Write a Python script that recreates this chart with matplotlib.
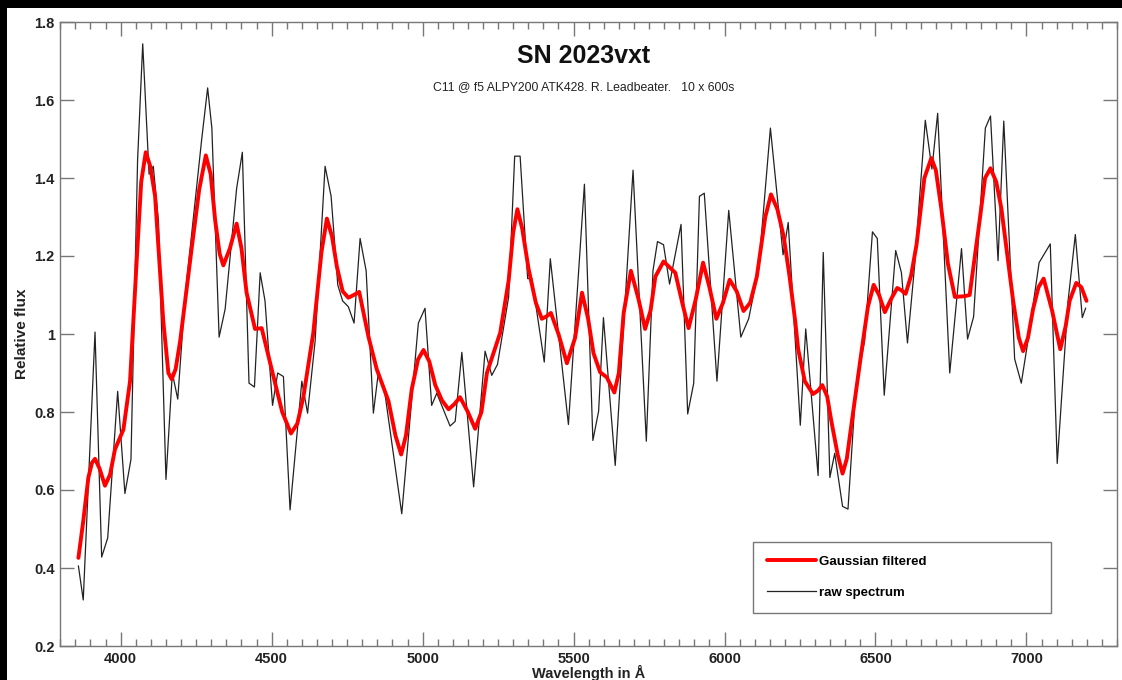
import numpy as np
import matplotlib
matplotlib.use("Agg")
import matplotlib.pyplot as plt
from matplotlib.patches import Rectangle
from matplotlib.ticker import MultipleLocator, FormatStrFormatter

# raw spectrum (wavelength in A, relative flux)
raw_wave = [3860, 3876, 3915, 3937, 3957, 3990, 4014, 4034, 4056, 4073,
            4094, 4108, 4125, 4150, 4171, 4189, 4213, 4268, 4288, 4302,
            4326, 4346, 4384, 4403, 4425, 4443, 4462, 4478, 4503, 4520,
            4539, 4561, 4600, 4619, 4644, 4677, 4697, 4719, 4735, 4754,
            4773, 4793, 4813, 4837, 4854, 4876, 4931, 4986, 5008, 5030,
            5047, 5091, 5108, 5130, 5169, 5207, 5229, 5248, 5285, 5305,
            5323, 5348, 5362, 5403, 5423, 5483, 5536, 5564, 5583, 5599,
            5638, 5697, 5741, 5763, 5778, 5798, 5818, 5856, 5878, 5898,
            5917, 5933, 5975, 6014, 6054, 6080, 6113, 6152, 6194, 6211,
            6251, 6269, 6310, 6327, 6349, 6365, 6391, 6409, 6435, 6464,
            6490, 6506, 6529, 6567, 6586, 6606, 6630, 6665, 6687, 6706,
            6746, 6785, 6805, 6825, 6864, 6881, 6906, 6925, 6961, 6983,
            7005, 7042, 7079, 7102, 7138, 7162, 7185, 7196]
raw_flux = [0.405, 0.318, 1.005, 0.428, 0.477, 0.853, 0.591, 0.678, 1.446, 1.744,
            1.41, 1.43, 1.29, 0.627, 0.90, 0.833, 1.095, 1.497, 1.631, 1.528,
            0.992, 1.064, 1.373, 1.466, 0.874, 0.864, 1.157, 1.085, 0.817, 0.90,
            0.891, 0.549, 0.879, 0.797, 0.982, 1.43, 1.353, 1.126, 1.085, 1.07,
            1.028, 1.245, 1.162, 0.797, 0.905, 0.843, 0.539, 1.028, 1.066, 0.817,
            0.848, 0.764, 0.776, 0.953, 0.608, 0.956, 0.894, 0.922, 1.095, 1.456,
            1.456, 1.142, 1.142, 0.928, 1.193, 0.768, 1.384, 0.727, 0.802, 1.042,
            0.663, 1.42, 0.725, 1.162, 1.237, 1.229, 1.128, 1.281, 0.795, 0.874,
            1.353, 1.361, 0.879, 1.317, 0.992, 1.039, 1.167, 1.528, 1.203, 1.286,
            0.766, 1.013, 0.637, 1.209, 0.632, 0.694, 0.558, 0.551, 0.864, 0.982,
            1.262, 1.245, 0.843, 1.214, 1.157, 0.977, 1.178, 1.548, 1.423, 1.566,
            0.90, 1.219, 0.987, 1.044, 1.528, 1.559, 1.188, 1.546, 0.936, 0.874,
            0.982, 1.183, 1.231, 0.668, 1.085, 1.255, 1.042, 1.066]

# gaussian filtered curve
smooth_wave = [3860, 3876, 3893, 3905, 3915, 3930, 3948, 3965, 3981, 4009,
               4031, 4053, 4068, 4083, 4098, 4114, 4141, 4158, 4169, 4182,
               4197, 4235, 4260, 4282, 4298, 4313, 4328, 4340, 4362, 4384,
               4400, 4417, 4445, 4467, 4500, 4535, 4564, 4585, 4605, 4638,
               4665, 4683, 4700, 4716, 4735, 4754, 4772, 4790, 4821, 4848,
               4887, 4910, 4929, 4945, 4964, 4985, 5003, 5022, 5042, 5064,
               5086, 5105, 5124, 5150, 5174, 5195, 5213, 5257, 5285, 5300,
               5314, 5330, 5351, 5375, 5395, 5410, 5425, 5450, 5478, 5505,
               5528, 5548, 5566, 5588, 5610, 5635, 5650, 5666, 5690, 5715,
               5737, 5755, 5771, 5798, 5837, 5860, 5881, 5905, 5929, 5950,
               5973, 5995, 6017, 6040, 6063, 6085, 6107, 6135, 6154, 6175,
               6196, 6215, 6234, 6244, 6266, 6293, 6310, 6324, 6340, 6354,
               6375, 6391, 6405, 6420, 6453, 6475, 6494, 6512, 6531, 6552,
               6572, 6586, 6600, 6618, 6636, 6662, 6685, 6700, 6718, 6740,
               6763, 6796, 6812, 6845, 6863, 6881, 6900, 6917, 6956, 6975,
               6989, 7005, 7022, 7040, 7057, 7085, 7112, 7130, 7143, 7165,
               7182, 7199]
smooth_flux = [0.426, 0.52, 0.632, 0.67, 0.68, 0.655, 0.611, 0.64, 0.704, 0.755,
               0.879, 1.188, 1.39, 1.466, 1.43, 1.353, 1.034, 0.90, 0.884, 0.91,
               0.982, 1.219, 1.37, 1.458, 1.41, 1.291, 1.205, 1.176, 1.22, 1.283,
               1.22, 1.106, 1.013, 1.015, 0.91, 0.80, 0.745, 0.77, 0.838, 1.003,
               1.21, 1.296, 1.25, 1.173, 1.11, 1.093, 1.10, 1.108, 0.992, 0.91,
               0.828, 0.74, 0.691, 0.74, 0.858, 0.935, 0.959, 0.93, 0.869, 0.83,
               0.807, 0.82, 0.838, 0.80, 0.757, 0.80, 0.90, 1.003, 1.137, 1.26,
               1.32, 1.27, 1.167, 1.08, 1.039, 1.045, 1.054, 1.00, 0.925, 0.99,
               1.106, 1.04, 0.951, 0.902, 0.889, 0.85, 0.90, 1.054, 1.162, 1.09,
               1.013, 1.06, 1.147, 1.186, 1.157, 1.08, 1.015, 1.09, 1.183, 1.12,
               1.039, 1.08, 1.139, 1.11, 1.059, 1.08, 1.147, 1.30, 1.358, 1.32,
               1.25, 1.15, 1.034, 0.961, 0.879, 0.846, 0.855, 0.869, 0.84, 0.776,
               0.69, 0.642, 0.68, 0.766, 0.951, 1.07, 1.126, 1.10, 1.056, 1.09,
               1.118, 1.112, 1.103, 1.15, 1.229, 1.40, 1.451, 1.42, 1.322, 1.18,
               1.095, 1.097, 1.10, 1.291, 1.40, 1.425, 1.39, 1.322, 1.085, 0.99,
               0.956, 0.99, 1.064, 1.12, 1.142, 1.06, 0.961, 1.02, 1.085, 1.131,
               1.12, 1.085]

W, H = 1122, 680
fig = plt.figure(figsize=(W / 100, H / 100), dpi=100, facecolor="black")
fig.patches.append(Rectangle((7 / W, 0), 1, 1 - 8 / H, transform=fig.transFigure,
                             facecolor="white", edgecolor="none", zorder=-10))

ax = fig.add_axes([60.3 / W, 1 - 646 / H, (1117 - 60.3) / W, (646 - 22) / H])

ax.plot(smooth_wave, smooth_flux, color="#ff0000", lw=2.8, label="Gaussian filtered",
        solid_joinstyle="round", solid_capstyle="round", zorder=3)
ax.plot(raw_wave, raw_flux, color="#222222", lw=0.9, label="raw spectrum", zorder=2)

ax.set_xlim(3800, 7300)
ax.set_ylim(0.2, 1.8)

ax.xaxis.set_major_locator(MultipleLocator(500))
ax.xaxis.set_minor_locator(MultipleLocator(50))
ax.yaxis.set_major_locator(MultipleLocator(0.2))
ax.yaxis.set_major_formatter(FormatStrFormatter("%g"))

for s in ax.spines.values():
    s.set_color("#777777")
    s.set_linewidth(1.0)

ax.tick_params(which="both", direction="in", top=True, right=True,
               color="#777777", width=1.0)
ax.tick_params(which="major", length=10, pad=4, labelsize=10.5,
               labelcolor="#222222")
ax.tick_params(which="minor", length=5)
for lab in ax.get_xticklabels() + ax.get_yticklabels():
    lab.set_fontweight("bold")
    lab.set_family("Liberation Sans")

ax.set_ylabel("Relative flux", fontsize=11, fontweight="bold",
              family="Liberation Sans", color="#222222")
ax.yaxis.set_label_coords(-0.0296, 0.5)
ax.set_xlabel("Wavelength in Å", fontsize=10.5, fontweight="bold",
              family="Liberation Sans", color="#222222", va="top")
ax.xaxis.set_label_coords(0.5, -0.0304)

fig.text(584 / W, 1 - 56 / H, "SN 2023vxt", ha="center", va="center",
         fontsize=18, fontweight="bold", family="Liberation Sans", color="#111111")
fig.text(584 / W, 1 - 87 / H, "C11 @ f5 ALPY200 ATK428. R. Leadbeater.   10 x 600s",
         ha="center", va="center", fontsize=8.8, family="Liberation Sans",
         color="#222222")

leg = ax.legend(loc="upper left", bbox_to_anchor=(0.6554, 0.0545, 0.282, 0.1122),
                mode="expand", fancybox=False, framealpha=1, edgecolor="#777777",
                prop={"family": "Liberation Sans", "weight": "bold", "size": 9.5},
                handlelength=3.7, handletextpad=0.3, borderpad=1.05,
                labelspacing=1.4, borderaxespad=0)
leg.get_frame().set_linewidth(1.0)

fig.savefig("out.png", dpi=100, facecolor=fig.get_facecolor())
